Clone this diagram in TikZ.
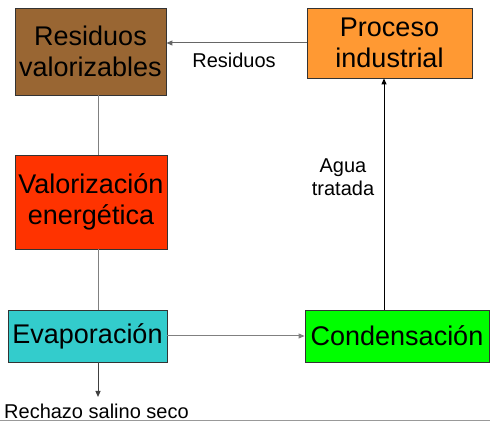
\documentclass[tikz,border=0pt]{standalone}
\usepackage{fontspec}
\setmainfont{Liberation Sans}
\usetikzlibrary{arrows.meta}
\definecolor{cbrown}{RGB}{153,102,51}
\definecolor{corange}{RGB}{255,153,51}
\definecolor{cred}{RGB}{255,51,0}
\definecolor{cteal}{RGB}{51,204,204}
\definecolor{cgreen}{RGB}{0,255,0}
\definecolor{cline}{RGB}{128,128,128}
\definecolor{cborder}{RGB}{51,51,51}
\tikzset{
  box/.style={draw=cborder, line width=0.8pt, rectangle, inner sep=0pt, align=center,
    font=\fontsize{27}{31}\selectfont},
  lbl/.style={inner sep=0pt, align=center, font=\fontsize{20}{23}\selectfont},
  conn/.style={draw=cline, line width=1pt},
  arr/.style={line width=1pt, -{Triangle[length=6pt,width=5pt]}},
}
\begin{document}
\begin{tikzpicture}[x=1pt,y=1pt]
\useasboundingbox (0,0) rectangle (490,423);
% boxes (y = 423 - image y)
\node[box, fill=cbrown, minimum width=151pt, minimum height=87pt] (RV) at (90.5,371.5) {Residuos\\valorizables};
\node[box, fill=corange, minimum width=165pt, minimum height=70pt] (PI) at (389.5,380) {Proceso\\industrial};
\node[box, fill=cred, minimum width=152pt, minimum height=94pt] (VE) at (91,221) {Valorización\\energética};
\node[box, fill=cteal, minimum width=159pt, minimum height=52pt] (EV) at (87.5,87) {Evaporación};
\node[box, fill=cgreen, minimum width=184pt, minimum height=52pt] (CO) at (397,87) {Condensación};
% labels
\node[lbl] (lres) at (234,363) {Residuos};
\node[lbl] (lagua) at (343,246) {Agua\\tratada};
\node[lbl, anchor=west] (lrech) at (4,12) {Rechazo salino seco};
% helper coordinates
\coordinate (xv) at (98,0);
\coordinate (xc) at (384,0);
\coordinate (rend) at (98,26);
% connectors
\draw[conn] (RV.south -| xv) -- (VE.north -| xv);
\draw[conn] (VE.south -| xv) -- (EV.north -| xv);
\draw[arr, draw=black!75] (EV.south -| xv) -- (rend);
\draw[arr, draw=cline] (EV.east) -- (CO.west);
\draw[arr, draw=black] (CO.north -| xc) -- (PI.south -| xc);
\draw[arr, draw=black!60] (PI.west) -- (PI.west -| RV.east);
% bottom rule
\coordinate (bl) at (0,2);
\coordinate (br) at (490,2);
\draw[draw=black!40, line width=1pt] (bl) -- (br);
\end{tikzpicture}
\end{document}
